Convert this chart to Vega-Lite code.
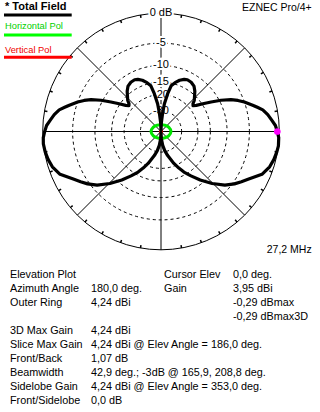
{
  "$schema": "https://vega.github.io/schema/vega-lite/v6.json",
  "description": "EZNEC elevation pattern (ARRL log scale, 0.89 per 2 dB) with summary table",
  "background": "white",
  "padding": 0,
  "spacing": 0,
  "config": {"view": {"stroke": null}, "font": "Liberation Sans", "text": {"font": "Liberation Sans"}},
  "vconcat": [
    {
      "width": 320,
      "height": 263,
      "layer": [
        {
          "data": {"values": [{"db": 0}]},
          "transform": [{"calculate": "pow(0.89, -datum.db / 2)", "as": "r"}],
          "mark": {"type": "point", "shape": "circle", "filled": false, "stroke": "black", "strokeWidth": 1, "opacity": 1},
          "encoding": {
            "x": {"datum": 0, "type": "quantitative", "scale": {"type": "linear", "domain": [-1.361, 1.344], "nice": false, "zero": false}, "axis": null},
            "y": {"datum": 0, "type": "quantitative", "scale": {"type": "linear", "domain": [-1.1116, 1.1116], "nice": false, "zero": false}, "axis": null},
            "size": {"field": "r", "type": "quantitative", "scale": {"type": "pow", "exponent": 2, "domain": [0, 1], "range": [0, 55979], "zero": true}, "legend": null}
          }
        },
        {
          "data": {"values": [{"db": -5}, {"db": -10}, {"db": -15}, {"db": -20}, {"db": -30}]},
          "transform": [{"calculate": "pow(0.89, -datum.db / 2)", "as": "r"}],
          "mark": {"type": "point", "shape": "circle", "filled": false, "stroke": "black", "strokeWidth": 1, "strokeDash": [3, 3], "opacity": 1},
          "encoding": {
            "x": {"datum": 0, "type": "quantitative", "scale": {"type": "linear", "domain": [-1.361, 1.344], "nice": false, "zero": false}, "axis": null},
            "y": {"datum": 0, "type": "quantitative", "scale": {"type": "linear", "domain": [-1.1116, 1.1116], "nice": false, "zero": false}, "axis": null},
            "size": {"field": "r", "type": "quantitative", "scale": {"type": "pow", "exponent": 2, "domain": [0, 1], "range": [0, 55979], "zero": true}, "legend": null}
          }
        },
        {
          "data": {"values": [{"deg": 0}, {"deg": 45}, {"deg": 90}, {"deg": 135}]},
          "transform": [
            {"calculate": "cos(datum.deg * PI / 180)", "as": "xa"},
            {"calculate": "sin(datum.deg * PI / 180)", "as": "ya"},
            {"calculate": "-datum.xa", "as": "xb"},
            {"calculate": "-datum.ya", "as": "yb"}
          ],
          "mark": {"type": "rule", "color": "black", "strokeWidth": 1},
          "encoding": {
            "x": {"field": "xa", "type": "quantitative", "scale": {"type": "linear", "domain": [-1.361, 1.344], "nice": false, "zero": false}, "axis": null},
            "y": {"field": "ya", "type": "quantitative", "scale": {"type": "linear", "domain": [-1.1116, 1.1116], "nice": false, "zero": false}, "axis": null},
            "x2": {"field": "xb"},
            "y2": {"field": "yb"}
          }
        },
        {
          "data": {"values": [
            {"deg": 10}, {"deg": 20}, {"deg": 30}, {"deg": 40}, {"deg": 50}, {"deg": 60}, {"deg": 70}, {"deg": 80},
            {"deg": 100}, {"deg": 110}, {"deg": 120}, {"deg": 130}, {"deg": 140}, {"deg": 150}, {"deg": 160}, {"deg": 170},
            {"deg": 190}, {"deg": 200}, {"deg": 210}, {"deg": 220}, {"deg": 230}, {"deg": 240}, {"deg": 250}, {"deg": 260},
            {"deg": 280}, {"deg": 290}, {"deg": 300}, {"deg": 310}, {"deg": 320}, {"deg": 330}, {"deg": 340}, {"deg": 350}
          ]},
          "transform": [
            {"calculate": "cos(datum.deg * PI / 180)", "as": "xa"},
            {"calculate": "sin(datum.deg * PI / 180)", "as": "ya"},
            {"calculate": "0.975 * datum.xa", "as": "xb"},
            {"calculate": "0.975 * datum.ya", "as": "yb"}
          ],
          "mark": {"type": "rule", "color": "black", "strokeWidth": 1.5},
          "encoding": {
            "x": {"field": "xa", "type": "quantitative", "scale": {"type": "linear", "domain": [-1.361, 1.344], "nice": false, "zero": false}, "axis": null},
            "y": {"field": "ya", "type": "quantitative", "scale": {"type": "linear", "domain": [-1.1116, 1.1116], "nice": false, "zero": false}, "axis": null},
            "x2": {"field": "xb"},
            "y2": {"field": "yb"}
          }
        },
        {
          "data": {"values": [
            {"db": 0, "label": "0 dB"}, {"db": -5, "label": "-5"}, {"db": -10, "label": "-10"},
            {"db": -15, "label": "-15"}, {"db": -20, "label": "-20"}, {"db": -30, "label": "-30"}
          ]},
          "transform": [{"calculate": "pow(0.89, -datum.db / 2)", "as": "r"}],
          "layer": [
            {"mark": {"type": "text", "color": "white", "stroke": "white", "strokeWidth": 4, "fontSize": 11, "align": "center", "baseline": "middle"}},
            {"mark": {"type": "text", "color": "black", "fontSize": 11, "align": "center", "baseline": "middle"}}
          ],
          "encoding": {
            "x": {"datum": 0, "type": "quantitative", "scale": {"type": "linear", "domain": [-1.361, 1.344], "nice": false, "zero": false}, "axis": null},
            "y": {"field": "r", "type": "quantitative", "scale": {"type": "linear", "domain": [-1.1116, 1.1116], "nice": false, "zero": false}, "axis": null},
            "text": {"field": "label"}
          }
        },
        {
          "data": {"values": [
            {"deg": 0, "db": -42.4}, {"deg": 30, "db": -44.6}, {"deg": 60, "db": -47.8}, {"deg": 90, "db": -49.0},
            {"deg": 120, "db": -47.8}, {"deg": 150, "db": -44.6}, {"deg": 180, "db": -42.4}, {"deg": 210, "db": -44.6},
            {"deg": 240, "db": -47.8}, {"deg": 270, "db": -49.0}, {"deg": 300, "db": -47.8}, {"deg": 330, "db": -44.6}
          ]},
          "transform": [
            {"calculate": "pow(0.89, -datum.db / 2)", "as": "r"},
            {"calculate": "datum.r * cos(datum.deg * PI / 180)", "as": "x"},
            {"calculate": "datum.r * sin(datum.deg * PI / 180)", "as": "y"}
          ],
          "mark": {"type": "line", "color": "#00e600", "strokeWidth": 3, "interpolate": "cardinal-closed"},
          "encoding": {
            "x": {"field": "x", "type": "quantitative", "scale": {"type": "linear", "domain": [-1.361, 1.344], "nice": false, "zero": false}, "axis": null},
            "y": {"field": "y", "type": "quantitative", "scale": {"type": "linear", "domain": [-1.1116, 1.1116], "nice": false, "zero": false}, "axis": null},
            "order": {"field": "deg", "type": "quantitative"}
          }
        },
        {
          "data": {"values": [
            {"deg": 0, "db": -80}, {"deg": 90, "db": -80}, {"deg": 180, "db": -80}, {"deg": 270, "db": -80}
          ]},
          "transform": [
            {"calculate": "pow(0.89, -datum.db / 2)", "as": "r"},
            {"calculate": "datum.r * cos(datum.deg * PI / 180)", "as": "x"},
            {"calculate": "datum.r * sin(datum.deg * PI / 180)", "as": "y"}
          ],
          "mark": {"type": "line", "color": "#ff0000", "strokeWidth": 2, "interpolate": "cardinal-closed"},
          "encoding": {
            "x": {"field": "x", "type": "quantitative", "scale": {"type": "linear", "domain": [-1.361, 1.344], "nice": false, "zero": false}, "axis": null},
            "y": {"field": "y", "type": "quantitative", "scale": {"type": "linear", "domain": [-1.1116, 1.1116], "nice": false, "zero": false}, "axis": null},
            "order": {"field": "deg", "type": "quantitative"}
          }
        },
        {
          "data": {"values": [
            {"deg": 0, "db": -0.29}, {"deg": 3, "db": -0.55}, {"deg": 6, "db": -1.07}, {"deg": 9, "db": -1.55},
            {"deg": 12, "db": -2.2}, {"deg": 14.1, "db": -3.0}, {"deg": 16, "db": -3.7}, {"deg": 19.5, "db": -5.0},
            {"deg": 22, "db": -6.1}, {"deg": 24.5, "db": -7.4}, {"deg": 27.5, "db": -9.6}, {"deg": 30.5, "db": -12.2},
            {"deg": 33.5, "db": -14.7}, {"deg": 36.5, "db": -17.0}, {"deg": 39, "db": -18.1}, {"deg": 41, "db": -17.6},
            {"deg": 43, "db": -16.4}, {"deg": 46, "db": -15.4}, {"deg": 50, "db": -13.9}, {"deg": 54, "db": -12.8},
            {"deg": 58.5, "db": -12.3}, {"deg": 63, "db": -12.2}, {"deg": 66, "db": -12.5}, {"deg": 70, "db": -13.3},
            {"deg": 74, "db": -14.5}, {"deg": 77.5, "db": -15.9}, {"deg": 80, "db": -19.3}, {"deg": 83, "db": -24.8},
            {"deg": 85, "db": -32}, {"deg": 87.5, "db": -44}, {"deg": 90, "db": -80},
            {"deg": 92.5, "db": -44}, {"deg": 95, "db": -32}, {"deg": 97, "db": -24.8}, {"deg": 100, "db": -19.3},
            {"deg": 102.5, "db": -15.9}, {"deg": 106, "db": -14.5}, {"deg": 110, "db": -13.3}, {"deg": 114, "db": -12.5},
            {"deg": 117, "db": -12.2}, {"deg": 121.5, "db": -12.3}, {"deg": 126, "db": -12.8}, {"deg": 130, "db": -13.9},
            {"deg": 134, "db": -15.4}, {"deg": 137, "db": -16.4}, {"deg": 139, "db": -17.6}, {"deg": 141, "db": -18.1},
            {"deg": 143.5, "db": -17.0}, {"deg": 146.5, "db": -14.7}, {"deg": 149.5, "db": -12.2}, {"deg": 152.5, "db": -9.6},
            {"deg": 155.5, "db": -7.4}, {"deg": 158, "db": -6.1}, {"deg": 160.5, "db": -5.0}, {"deg": 164, "db": -3.7},
            {"deg": 165.9, "db": -3.0}, {"deg": 168, "db": -2.2}, {"deg": 171, "db": -1.55}, {"deg": 174, "db": -1.07},
            {"deg": 177, "db": -0.55}, {"deg": 180, "db": -0.29}, {"deg": 183, "db": -0.06}, {"deg": 186, "db": 0},
            {"deg": 190, "db": -0.1}, {"deg": 194, "db": -0.3}, {"deg": 198, "db": -0.6}, {"deg": 203, "db": -1.3},
            {"deg": 208.8, "db": -3.0}, {"deg": 212, "db": -3.8}, {"deg": 215.5, "db": -4.65}, {"deg": 220, "db": -6.0},
            {"deg": 225.5, "db": -8.3}, {"deg": 231, "db": -11.0}, {"deg": 236, "db": -13.6}, {"deg": 240.5, "db": -16.0},
            {"deg": 244, "db": -18.3}, {"deg": 248, "db": -21.2}, {"deg": 254.5, "db": -26.7}, {"deg": 259, "db": -31},
            {"deg": 263, "db": -36.6}, {"deg": 267, "db": -48}, {"deg": 270, "db": -80},
            {"deg": 273, "db": -48}, {"deg": 277, "db": -36.6}, {"deg": 281, "db": -31}, {"deg": 285.5, "db": -26.7},
            {"deg": 292, "db": -21.2}, {"deg": 296, "db": -18.3}, {"deg": 299.5, "db": -16.0}, {"deg": 304, "db": -13.6},
            {"deg": 309, "db": -11.0}, {"deg": 314.5, "db": -8.3}, {"deg": 320, "db": -6.0}, {"deg": 324.5, "db": -4.65},
            {"deg": 328, "db": -3.8}, {"deg": 331.2, "db": -3.0}, {"deg": 337, "db": -1.3}, {"deg": 342, "db": -0.6},
            {"deg": 346, "db": -0.3}, {"deg": 350, "db": -0.1}, {"deg": 353, "db": 0}, {"deg": 357, "db": -0.06},
            {"deg": 360, "db": -0.29}
          ]},
          "transform": [
            {"calculate": "pow(0.89, -datum.db / 2)", "as": "r"},
            {"calculate": "datum.r * cos(datum.deg * PI / 180)", "as": "x"},
            {"calculate": "datum.r * sin(datum.deg * PI / 180)", "as": "y"}
          ],
          "mark": {"type": "line", "color": "black", "strokeWidth": 3.2, "strokeJoin": "round", "strokeCap": "round"},
          "encoding": {
            "x": {"field": "x", "type": "quantitative", "scale": {"type": "linear", "domain": [-1.361, 1.344], "nice": false, "zero": false}, "axis": null},
            "y": {"field": "y", "type": "quantitative", "scale": {"type": "linear", "domain": [-1.1116, 1.1116], "nice": false, "zero": false}, "axis": null},
            "order": {"field": "deg", "type": "quantitative"}
          }
        },
        {
          "data": {"values": [{"deg": 0, "db": -0.29}]},
          "transform": [
            {"calculate": "pow(0.89, -datum.db / 2)", "as": "r"},
            {"calculate": "datum.r * cos(datum.deg * PI / 180)", "as": "x"},
            {"calculate": "datum.r * sin(datum.deg * PI / 180)", "as": "y"}
          ],
          "mark": {"type": "point", "shape": "circle", "filled": true, "color": "#ff00ff", "size": 45, "opacity": 1},
          "encoding": {
            "x": {"field": "x", "type": "quantitative", "scale": {"type": "linear", "domain": [-1.361, 1.344], "nice": false, "zero": false}, "axis": null},
            "y": {"field": "y", "type": "quantitative", "scale": {"type": "linear", "domain": [-1.1116, 1.1116], "nice": false, "zero": false}, "axis": null}
          }
        },
        {
          "data": {"values": [{"label": "* Total Field"}]},
          "mark": {"type": "text", "align": "left", "baseline": "alphabetic", "fontSize": 11, "fontWeight": "bold", "color": "black"},
          "encoding": {
            "x": {"datum": -1.3187, "type": "quantitative", "scale": {"type": "linear", "domain": [-1.361, 1.344], "nice": false, "zero": false}, "axis": null},
            "y": {"datum": 1.0271, "type": "quantitative", "scale": {"type": "linear", "domain": [-1.1116, 1.1116], "nice": false, "zero": false}, "axis": null},
            "text": {"field": "label"}
          }
        },
        {
          "data": {"values": [{"label": "Horizontal Pol"}]},
          "mark": {"type": "text", "align": "left", "baseline": "alphabetic", "fontSize": 9.3, "color": "#00d000"},
          "encoding": {
            "x": {"datum": -1.3187, "type": "quantitative", "scale": {"type": "linear", "domain": [-1.361, 1.344], "nice": false, "zero": false}, "axis": null},
            "y": {"datum": 0.8639, "type": "quantitative", "scale": {"type": "linear", "domain": [-1.1116, 1.1116], "nice": false, "zero": false}, "axis": null},
            "text": {"field": "label"}
          }
        },
        {
          "data": {"values": [{"label": "Vertical Pol"}]},
          "mark": {"type": "text", "align": "left", "baseline": "alphabetic", "fontSize": 9.3, "color": "#f00000"},
          "encoding": {
            "x": {"datum": -1.3187, "type": "quantitative", "scale": {"type": "linear", "domain": [-1.361, 1.344], "nice": false, "zero": false}, "axis": null},
            "y": {"datum": 0.6661, "type": "quantitative", "scale": {"type": "linear", "domain": [-1.1116, 1.1116], "nice": false, "zero": false}, "axis": null},
            "text": {"field": "label"}
          }
        },
        {
          "data": {"values": [{"series": "Total Field"}]},
          "mark": {"type": "rule", "color": "black", "strokeWidth": 3},
          "encoding": {
            "x": {"datum": -1.3272, "type": "quantitative", "scale": {"type": "linear", "domain": [-1.361, 1.344], "nice": false, "zero": false}, "axis": null},
            "x2": {"datum": -0.7549},
            "y": {"datum": 0.9848, "type": "quantitative", "scale": {"type": "linear", "domain": [-1.1116, 1.1116], "nice": false, "zero": false}, "axis": null}
          }
        },
        {
          "data": {"values": [{"series": "Horizontal Pol"}]},
          "mark": {"type": "rule", "color": "#00ff00", "strokeWidth": 3},
          "encoding": {
            "x": {"datum": -1.3272, "type": "quantitative", "scale": {"type": "linear", "domain": [-1.361, 1.344], "nice": false, "zero": false}, "axis": null},
            "x2": {"datum": -0.7549},
            "y": {"datum": 0.8157, "type": "quantitative", "scale": {"type": "linear", "domain": [-1.1116, 1.1116], "nice": false, "zero": false}, "axis": null}
          }
        },
        {
          "data": {"values": [{"series": "Vertical Pol"}]},
          "mark": {"type": "rule", "color": "#ff0000", "strokeWidth": 3},
          "encoding": {
            "x": {"datum": -1.3272, "type": "quantitative", "scale": {"type": "linear", "domain": [-1.361, 1.344], "nice": false, "zero": false}, "axis": null},
            "x2": {"datum": -0.7549},
            "y": {"datum": 0.6272, "type": "quantitative", "scale": {"type": "linear", "domain": [-1.1116, 1.1116], "nice": false, "zero": false}, "axis": null}
          }
        },
        {
          "data": {"values": [{"label": "EZNEC Pro/4+"}]},
          "mark": {"type": "text", "align": "right", "baseline": "alphabetic", "fontSize": 10.5, "color": "black"},
          "encoding": {
            "x": {"datum": 1.2739, "type": "quantitative", "scale": {"type": "linear", "domain": [-1.361, 1.344], "nice": false, "zero": false}, "axis": null},
            "y": {"datum": 1.0186, "type": "quantitative", "scale": {"type": "linear", "domain": [-1.1116, 1.1116], "nice": false, "zero": false}, "axis": null},
            "text": {"field": "label"}
          }
        },
        {
          "data": {"values": [{"label": "27,2 MHz"}]},
          "mark": {"type": "text", "align": "right", "baseline": "alphabetic", "fontSize": 10.5, "color": "black"},
          "encoding": {
            "x": {"datum": 1.2739, "type": "quantitative", "scale": {"type": "linear", "domain": [-1.361, 1.344], "nice": false, "zero": false}, "axis": null},
            "y": {"datum": -1.0296, "type": "quantitative", "scale": {"type": "linear", "domain": [-1.1116, 1.1116], "nice": false, "zero": false}, "axis": null},
            "text": {"field": "label"}
          }
        }
      ]
    },
    {
      "width": 320,
      "height": 149,
      "data": {"values": [
        {"line": 0, "col": 0, "text": "Elevation Plot"},
        {"line": 0, "col": 2, "text": "Cursor Elev"},
        {"line": 0, "col": 3, "text": "0,0 deg."},
        {"line": 1, "col": 0, "text": "Azimuth Angle"},
        {"line": 1, "col": 1, "text": "180,0 deg."},
        {"line": 1, "col": 2, "text": "Gain"},
        {"line": 1, "col": 3, "text": "3,95 dBi"},
        {"line": 2, "col": 0, "text": "Outer Ring"},
        {"line": 2, "col": 1, "text": "4,24 dBi"},
        {"line": 2, "col": 3, "text": "-0,29 dBmax"},
        {"line": 3, "col": 3, "text": "-0,29 dBmax3D"},
        {"line": 4, "col": 0, "text": "3D Max Gain"},
        {"line": 4, "col": 1, "text": "4,24 dBi"},
        {"line": 5, "col": 0, "text": "Slice Max Gain"},
        {"line": 5, "col": 1, "text": "4,24 dBi @ Elev Angle = 186,0 deg."},
        {"line": 6, "col": 0, "text": "Front/Back"},
        {"line": 6, "col": 1, "text": "1,07 dB"},
        {"line": 7, "col": 0, "text": "Beamwidth"},
        {"line": 7, "col": 1, "text": "42,9 deg.; -3dB @ 165,9, 208,8 deg."},
        {"line": 8, "col": 0, "text": "Sidelobe Gain"},
        {"line": 8, "col": 1, "text": "4,24 dBi @ Elev Angle = 353,0 deg."},
        {"line": 9, "col": 0, "text": "Front/Sidelobe"},
        {"line": 9, "col": 1, "text": "0,0 dB"}
      ]},
      "mark": {"type": "text", "align": "left", "baseline": "alphabetic", "fontSize": 10.8, "color": "black"},
      "encoding": {
        "x": {"field": "col", "type": "quantitative", "scale": {"type": "linear", "domain": [0, 1, 2, 3], "range": [10, 91, 164, 233], "nice": false, "zero": false}, "axis": null},
        "y": {"field": "line", "type": "quantitative", "scale": {"domain": [-1.093, 9.55], "reverse": true, "nice": false, "zero": false}, "axis": null},
        "text": {"field": "text"}
      }
    }
  ]
}
